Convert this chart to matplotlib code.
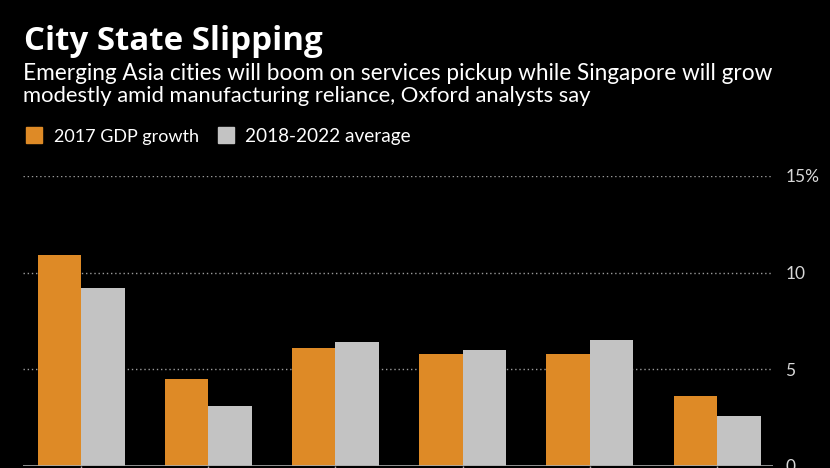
import matplotlib
matplotlib.use("Agg")
import matplotlib.pyplot as plt
import numpy as np

# ---- data ----
groups = [0, 1, 2, 3, 4, 5]
gdp_2017 = [10.9, 4.5, 6.1, 5.8, 5.8, 3.6]
avg_2018_2022 = [9.2, 3.1, 6.4, 6.0, 6.5, 2.6]
series_labels = ["2017 GDP growth", "2018-2022 average"]
yticks = [0, 5, 10, 15]
ytick_labels = ["0", "5", "10", "15%"]

title = "City State Slipping"
subtitle1 = "Emerging Asia cities will boom on services pickup while Singapore will grow"
subtitle2 = "modestly amid manufacturing reliance, Oxford analysts say"

ORANGE = "#DE8A26"
GRAY = "#C3C3C3"
BG = "#000000"
FONT = ["Lato", "DejaVu Sans"]
TFONT = ["Open Sans", "DejaVu Sans"]

W, H = 830, 468
fig = plt.figure(figsize=(W / 100, H / 100), dpi=100, facecolor=BG)
renderer = fig.canvas.get_renderer()


def px(x, y):
    return x / W, 1 - y / H


def fit_text(x, y_base, s, target_w, size, family=FONT, **kw):
    t = fig.text(*px(x, y_base), s, fontsize=size, color="white",
                 family=family, va="baseline", ha="left", **kw)
    w = t.get_window_extent(renderer).width
    t.set_fontsize(size * target_w / w)
    return t


fit_text(24, 50, title, 298, 20, family=TFONT, fontweight="bold")
fit_text(23, 80, subtitle1, 752, 14)
fit_text(23, 102, subtitle2, 570, 14)

# legend
fig.patches.append(plt.Rectangle(px(26, 143), 16 / W, 16 / H, transform=fig.transFigure,
                                 color=ORANGE))
fit_text(54, 142, series_labels[0], 145, 13)
fig.patches.append(plt.Rectangle(px(218, 143), 16 / W, 16 / H, transform=fig.transFigure,
                                 color=GRAY))
fit_text(245, 142, series_labels[1], 165, 13)

# axes: x from 23px to 773px, y=0 at 466px, y=15 at 176px
left, bottom = px(23, 466)
right, top = px(773, 176)
ax = fig.add_axes([left, bottom, right - left, top - bottom], facecolor=BG)

x = np.array(groups, dtype=float)
bw = 0.342
ax.bar(x - bw / 2, gdp_2017, width=bw, color=ORANGE, zorder=3)
ax.bar(x + bw / 2, avg_2018_2022, width=bw, color=GRAY, zorder=3)

ax.set_xlim(-0.456, 5.44)
ax.set_ylim(0, 15)

for v in yticks[1:]:
    ax.axhline(v, color="#9a9a9a", linestyle=(0, (1, 2)), linewidth=1.0, zorder=1)
ax.axhline(0, color="#aaaaaa", linewidth=1.2, zorder=4)

for s in ax.spines.values():
    s.set_visible(False)

ax.yaxis.tick_right()
ax.set_yticks(yticks)
ax.set_yticklabels(ytick_labels, family=FONT, fontsize=12.5, color="#d8d8d8")
ax.tick_params(axis="y", length=0, pad=9)

ax.set_xticks(x)
ax.set_xticklabels([""] * len(groups))
ax.tick_params(axis="x", direction="out", length=6, color="#aaaaaa", width=1)

fig.savefig("out.png", dpi=100, facecolor=BG)
